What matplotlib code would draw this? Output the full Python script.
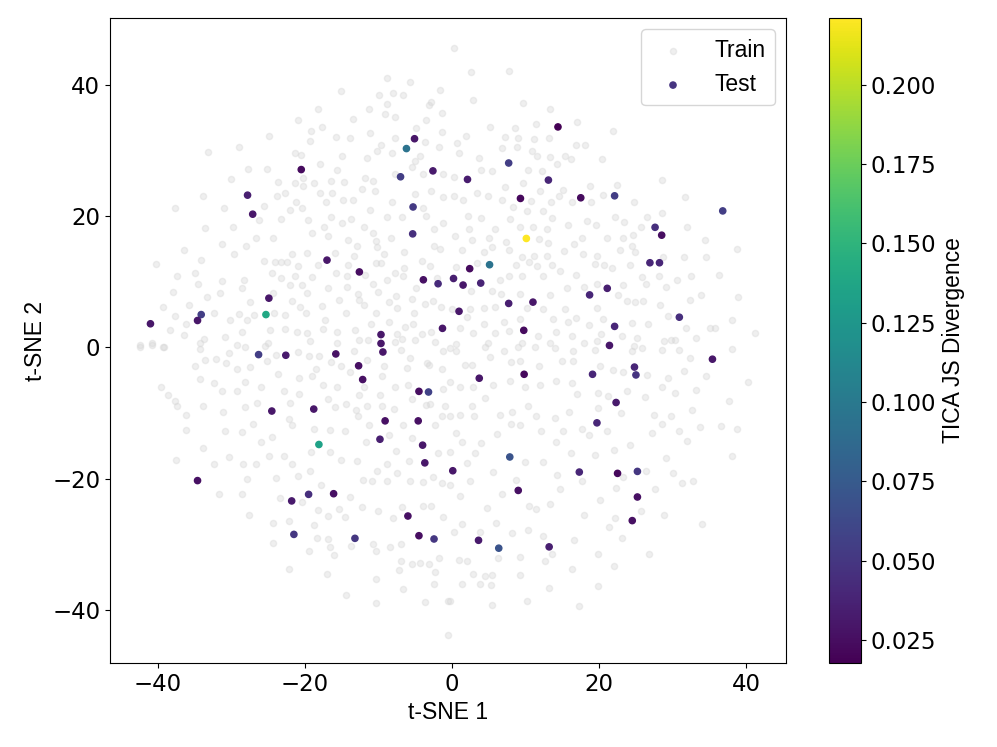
import numpy as np
import matplotlib
matplotlib.use("Agg")
import matplotlib.pyplot as plt

# ---------------- data ----------------
# Train embedding, upper-left region (x, y)
train_upper_left = [
    (-8.9,41.0),(-5.7,40.4),(-15.1,39.1),(-9.9,38.4),(-8.0,38.8),(-6.7,38.4),(-1.6,39.2),(-2.8,37.4),(-3.2,37.0),(-8.9,37.1),
    (-11.3,36.3),(-18.2,36.3),(-1.3,35.7),(-9.1,35.5),(-7.8,35.1),(-20.9,34.7),(-13.5,34.8),(-3.5,34.7),(-17.7,33.6),(-4.9,33.5),
    (-19.2,33.0),(-1.4,32.8),(-24.9,32.2),(-15.8,32.1),(-13.9,31.9),(-11.2,32.7),(-7.7,31.9),
    (-19.3,31.4),(-3.7,31.3),(-28.9,30.5),(-33.2,29.8),(-9.6,30.8),(-10.2,30.0),(-1.8,30.6),(-21.3,29.7),(-20.6,29.3),
    (-15.0,29.2),(-11.5,28.8),(-8.1,29.6),(-4.4,29.1),(-5.1,28.4),(-17.9,27.9),(-5.4,27.5),(-27.8,27.2),(-25.2,27.2),(-15.6,27.0),
    (-7.7,26.5),(-4.0,26.5),(-1.2,26.5),(-30.1,25.7),(-23.7,25.2),(-20.2,25.8),(-18.7,25.1),(-16.5,25.3),(-14.7,25.2),(-11.8,25.8),
    (-10.8,25.4),(-21.3,25.0),(-23.8,23.1),(-22.7,23.6),(-20.2,24.6),(-18.0,23.5),(-16.3,23.6),(-12.3,24.2),(-10.5,23.8),(-5.1,23.4),
    (-2.9,23.9),(-1.2,22.9),(-33.8,23.1),(-21.2,22.1),(-17.2,22.1),(-14.8,22.5),(-13.4,22.5),(-8.2,22.1),
    (-37.6,21.2),(-31.0,21.2),(-25.5,21.6),(-22.0,20.9),(-20.4,21.2),(-11.2,20.9),(-8.9,19.9),(-6.8,19.9),(-4.0,21.2),(-3.5,20.1),
    (-1.2,18.9),(-33.6,18.2),(-29.8,18.4),(-26.2,19.4),(-23.3,19.6),(-19.6,19.4),(-16.5,19.9),(-14.9,18.9),(-13.8,19.5),(-12.0,18.4),
    (-17.4,18.3),(-19.1,17.4),(-16.8,16.9),(-10.8,17.4),(-8.3,16.7),(-2.4,18.1),
    (-28.0,15.5),(-26.7,16.6),(-24.3,16.6),(-31.3,15.8),(-14.2,16.4),(-12.9,15.5),(-10.4,16.2),(-10.2,15.3),(-6.5,14.6),(-2.5,15.5),
    (-1.6,15.0),(-36.5,14.8),(-29.6,14.2),(-21.8,14.2),(-19.7,14.4),(-15.9,14.4),(-13.3,13.9),(-9.3,14.3),(-34.1,13.3),(-25.5,13.1),
    (-24.1,13.0),(-23.3,13.0),(-22.5,13.0),(-21.0,12.4),(-18.2,12.6),(-14.1,12.5),(-10.4,12.8),(-9.7,12.9),(-6.5,12.1),(-4.1,13.2),
    (-3.0,12.4),(-40.2,12.7),(-37.4,10.9),
    (-35.0,11.3),(-24.5,11.4),(-21.4,10.9),(-19.1,10.7),(-15.8,11.4),(-14.3,10.9),(-11.8,11.0),(-7.8,11.3),(-6.6,10.9),(-2.0,10.6),
    (-34.5,9.7),(-31.3,10.1),(-28.3,10.2),(-23.3,10.6),(-22.0,9.5),(-20.4,9.5),(-14.3,9.2),(-10.7,9.6),(-8.9,10.2),(-4.9,9.0),
    (-37.9,8.5),(-31.5,8.3),(-28.5,9.0),(-27.5,6.9),(-24.3,8.3),(-19.7,8.3),(-16.8,9.0),(-12.8,8.2),(-10.1,8.5),(-7.6,7.9),
    (-5.5,7.3),(-2.6,7.0),(-33.3,7.7),(-21.8,7.1),(-15.4,7.2),(-12.7,7.2),
    (-35.8,6.4),(-39.3,6.2),(-32.3,5.3),(-29.0,5.1),(-27.9,4.2),(-26.9,5.0),(-24.2,5.2),(-22.7,4.9),(-20.7,6.2),(-19.8,5.2),
    (-17.7,6.3),(-14.4,5.2),(-12.0,6.4),(-10.4,5.3),(-8.6,6.9),(-7.5,6.0),(-3.7,6.6),(-5.2,5.2),(-1.5,6.2),(-36.2,3.5),
    (-37.7,4.8),(-30.2,4.1),(-17.3,4.2),(-11.0,3.5),(-8.6,3.9),(-6.4,3.1),(-5.3,3.5),(-4.1,2.1),(-2.8,2.4),(-38.3,2.6),
    (-36.5,1.9),(-33.7,1.3),(-30.9,1.6),(-28.6,2.3),(-24.8,2.6),(-22.7,2.8),(-21.1,2.4),(-19.7,2.2),(-17.6,2.8),(-15.7,2.3),
    (-13.2,2.6),(-7.5,2.0),(-6.8,1.3),(-42.4,0.3),(-40.8,0.6),(-39.2,0.0),(-34.3,0.7),(-25.0,0.6),(-19.3,0.9),(-15.7,0.7),
    (-12.7,1.2),(-11.4,1.1),(-7.7,0.8),(-5.1,1.1),(-2.3,0.8),
]

# Train embedding, upper-right region (x, y)
train_upper_right = [
    (0.3,45.7),(2.6,41.9),(7.8,42.1),(2.8,37.7),(9.6,37.2),(13.3,36.3),(5.1,33.6),(8.5,33.5),(11.4,34.1),(17.0,34.4),
    (21.9,33.0),(0.7,31.2),(1.9,32.2),(7.2,32.1),(9.0,31.9),(11.1,31.8),(13.2,31.9),(16.9,30.9),(18.1,30.8),(1.0,29.6),
    (3.7,28.9),(5.4,26.9),(6.8,30.4),(8.8,30.5),(10.9,30.0),(11.6,29.2),(13.3,29.0),(15.4,29.2),(16.2,28.7),(20.4,28.7),
    (4.0,27.1),(14.3,27.9),(10.3,27.1),(12.2,26.9),(0.2,25.9),(3.4,23.6),(4.9,23.0),(7.2,24.4),(9.7,25.1),(12.0,23.8),
    (15.1,24.0),(18.7,24.6),(20.5,23.2),(22.4,24.8),(28.6,25.5),(31.7,22.9),(0.2,23.0),(1.5,22.5),(6.8,22.4),(10.7,22.3),
    (13.5,22.2),(14.5,23.0),(16.3,22.1),(18.9,22.2),(24.8,22.2),(2.2,20.1),(4.0,19.7),(8.3,21.4),(10.2,20.8),(12.4,20.8),
    (13.6,19.7),(18.3,19.3),(19.6,18.7),(22.1,19.9),(23.4,19.1),(26.5,19.9),(28.6,20.5),(31.9,18.4),(2.3,18.0),(5.8,18.1),
    (7.9,19.5),(9.3,18.3),(11.0,18.3),(12.9,18.1),(15.7,18.6),(21.0,16.6),(23.3,16.7),(24.6,17.2),(25.7,18.3),(0.4,16.9),
    (2.7,16.3),(5.0,16.6),(7.4,16.1),(11.8,16.5),(13.1,15.9),(16.6,15.8),(17.6,16.7),(34.4,16.4),(38.7,15.0),(1.4,14.9),
    (4.3,14.5),(5.4,15.3),(7.7,14.9),(9.5,13.7),(11.2,13.9),(12.9,14.0),(15.2,14.7),(17.8,14.2),(19.7,13.9),(22.9,14.9),
    (24.4,15.4),(24.9,14.6),(28.7,13.7),(31.6,13.8),(34.5,13.8),(0.6,12.3),(3.4,12.9),(7.8,10.9),(8.7,12.5),(10.5,13.0),
    (11.6,12.4),(13.6,12.6),(14.7,11.6),(16.9,11.1),(19.4,12.7),(20.6,12.5),(21.7,12.1),(24.2,12.5),(25.8,10.8),(28.2,10.9),
    (30.6,10.2),(32.5,10.9),(36.3,11.1),(6.5,10.2),(9.5,10.9),(12.4,10.9),(17.9,9.2),(19.7,9.6),(23.2,9.5),(26.4,9.7),
    (29.1,9.2),(33.8,8.0),(38.9,7.7),(2.6,8.6),(5.4,8.6),(6.6,8.1),(9.2,8.2),(13.3,8.0),(15.6,9.0),(22.6,8.0),
    (26.0,7.1),(28.3,6.5),(32.4,7.2),(0.0,5.9),(2.5,5.9),(4.3,6.0),(5.8,6.2),(10.2,6.0),(12.4,5.8),(15.4,5.9),
    (16.9,4.5),(19.7,6.0),(23.8,7.1),(24.9,6.9),(29.3,4.8),(35.1,2.9),(35.8,2.9),(38.0,4.2),(41.2,2.2),(2.0,4.6),
    (4.3,3.5),(7.0,3.9),(9.2,4.3),(13.7,4.3),(15.8,3.9),(18.6,3.4),(20.5,4.3),(24.5,3.7),(26.7,3.5),(31.8,3.0),
    (1.1,3.0),(2.8,2.2),(5.8,2.2),(7.8,2.5),(11.7,1.7),(14.2,2.3),(16.3,1.8),(17.9,0.7),(20.2,2.0),(23.1,1.7),
    (25.1,1.5),(28.8,0.9),(29.8,1.2),(30.3,1.1),(0.6,0.5),(4.9,0.7),(9.5,0.7),(13.3,0.7),(19.7,0.9),(24.7,0.2),
    (33.1,1.5),
]

# Train embedding, lower-left region (x, y)
train_lower_left = [
    (-42.4,0.1),(-40.8,0.4),(-39.3,0.0),(-34.3,-0.3),(-30.3,-0.9),(-29.2,0.4),(-28.2,0.1),(-25.4,0.2),(-23.9,-1.1),(-21.0,-0.7),
    (-19.4,-1.3),(-18.1,-1.3),(-13.3,-0.6),(-11.6,-1.9),(-7.0,-0.4),(-5.7,-1.6),(-3.4,-2.4),(-1.2,-0.5),(-34.9,-2.9),(-33.6,-1.9),
    (-32.1,-1.8),(-30.7,-2.4),(-29.2,-3.3),(-27.4,-3.0),(-25.2,-2.1),(-23.7,-4.1),(-20.8,-4.7),(-19.1,-4.3),(-18.5,-3.3),(-16.4,-2.3),
    (-15.1,-2.8),(-13.9,-3.7),(-9.5,-4.3),(-9.2,-2.8),(-6.1,-3.2),(-3.1,-2.7),(-1.4,-3.3),(-34.3,-4.8),(-32.3,-5.5),(-31.3,-6.6),
    (-29.3,-6.7),(-28.2,-5.3),(-26.0,-6.1),(-22.9,-6.7),(-20.8,-7.1),(-17.5,-5.8),(-15.7,-6.0),(-12.7,-7.3),(-12.0,-6.0),(-9.8,-7.2),
    (-7.7,-6.1),(-6.0,-5.7),(-3.5,-8.8),(-1.2,-6.3),(-39.6,-6.1),(-38.6,-7.2),(-37.6,-8.2),(-37.4,-8.9),(-36.2,-10.3),(-33.9,-9.0),
    (-31.1,-9.8),(-28.2,-9.1),(-26.5,-8.4),(-22.0,-8.5),(-16.9,-7.9),(-15.9,-9.1),(-14.4,-8.7),(-13.0,-9.6),(-11.5,-8.9),(-9.5,-9.0),
    (-7.9,-9.4),(-5.5,-7.9),(-3.0,-8.7),(-1.0,-8.9),(-36.2,-12.6),(-30.8,-12.7),(-28.5,-12.9),(-27.1,-11.6),(-24.5,-13.7),(-22.2,-10.9),
    (-21.7,-11.8),(-18.7,-12.4),(-16.6,-12.6),(-14.5,-12.7),(-12.8,-10.5),(-11.3,-11.9),(-8.6,-13.3),(-6.6,-11.8),(-5.5,-13.8),(-2.3,-11.9),
    (-1.3,-10.5),(-33.8,-15.3),(-37.5,-17.1),(-32.3,-17.7),(-30.3,-16.7),(-28.4,-17.8),(-26.7,-17.7),(-26.0,-14.4),(-24.9,-16.5),(-22.9,-16.5),
    (-21.8,-17.8),(-19.2,-15.9),(-16.6,-15.9),(-15.1,-17.2),(-12.9,-17.3),(-11.7,-14.4),(-10.2,-18.8),(-8.8,-17.8),(-7.6,-15.8),(-5.9,-17.3),
    (-1.9,-16.1),(-31.7,-22.3),(-28.6,-22.3),(-27.9,-20.0),(-23.9,-19.9),(-21.0,-19.6),(-19.3,-18.8),(-17.8,-21.0),(-13.9,-22.8),(-12.1,-20.2),
    (-10.9,-20.3),(-8.9,-20.4),(-7.5,-19.2),(-5.7,-20.4),(-4.0,-20.5),(-2.6,-19.8),(-1.3,-20.6),(-27.6,-25.5),(-24.4,-26.7),(-23.4,-23.0),
    (-20.4,-23.6),(-18.2,-24.8),(-16.8,-25.7),(-15.4,-24.7),(-14.5,-25.8),(-12.3,-24.4),(-10.1,-25.0),(-8.0,-26.0),(-6.8,-24.4),(-4.0,-24.1),
    (-2.9,-24.2),(-1.2,-25.9),(-24.3,-29.8),(-22.1,-26.4),(-19.5,-31.1),(-18.8,-27.0),(-18.4,-29.0),(-16.9,-29.2),(-16.6,-30.4),(-16.0,-31.6),
    (-13.8,-30.3),(-10.4,-31.1),(-10.7,-29.9),(-8.5,-30.4),(-6.9,-30.0),(-7.0,-32.6),(-5.5,-33.0),(-4.4,-32.8),(-3.1,-33.0),(-1.8,-32.1),
    (-22.1,-33.7),(-17.0,-34.5),(-7.2,-34.0),(-2.3,-34.3),(-10.3,-35.3),(-2.5,-36.0),(-6.7,-36.8),(-14.4,-37.8),(-10.4,-39.0),(-3.7,-38.8),
    (-0.6,-43.8),(-0.6,-38.7),
]

# Train embedding, lower-right region (x, y)
train_lower_right = [
    (-0.3,-0.1),(0.5,-0.5),(4.5,0.1),(7.0,-0.6),(9.0,0.1),(11.3,0.0),(14.0,-0.1),(16.5,-0.6),(19.5,-0.4),(24.4,-0.6),
    (25.8,-0.1),(28.5,-0.4),(30.8,-0.4),(32.4,-1.6),(38.0,-0.3),(1.8,-2.7),(2.7,-2.7),(5.2,-1.4),(8.0,-2.2),(9.3,-2.1),
    (11.8,-2.8),(14.9,-2.0),(16.5,-2.0),(20.1,-2.9),(21.9,-3.4),(23.3,-3.7),(26.5,-4.2),(29.4,-4.6),(31.5,-3.6),(34.5,-4.4),
    (40.2,-5.3),(-0.3,-5.2),(1.1,-6.0),(2.8,-6.0),(4.5,-7.7),(5.6,-5.7),(7.9,-5.1),(9.9,-6.0),(12.0,-5.8),(14.2,-5.1),
    (16.3,-5.4),(17.0,-7.1),(19.9,-7.0),(21.2,-7.4),(23.8,-6.7),(26.2,-7.5),(28.5,-6.1),(30.3,-7.0),(33.2,-6.5),(37.7,-8.2),
    (-0.3,-10.5),(1.1,-10.3),(2.7,-9.0),(3.0,-10.5),(6.5,-10.3),(8.1,-9.9),(10.3,-9.0),(11.4,-10.4),(14.0,-10.7),(15.9,-9.8),
    (17.6,-12.4),(19.9,-9.2),(23.0,-10.0),(27.4,-10.3),(29.7,-10.5),(32.6,-9.5),(33.7,-12.2),(36.5,-12.0),(38.8,-12.4),(0.5,-13.1),
    (1.4,-14.4),(4.0,-14.6),(6.1,-13.2),(8.0,-11.6),(9.3,-11.8),(12.1,-12.8),(14.2,-14.4),(15.1,-12.7),(18.6,-13.4),(21.0,-12.8),
    (22.0,-15.7),(24.2,-14.9),(27.2,-13.1),(28.6,-11.6),(30.8,-12.8),(31.9,-14.3),(38.1,-16.5),(-0.3,-15.9),(2.0,-17.6),(3.1,-16.1),
    (5.6,-19.0),(9.9,-17.5),(12.4,-17.4),(14.3,-19.4),(16.2,-16.1),(17.6,-20.4),(19.5,-16.4),(22.3,-21.5),(23.3,-19.8),(26.3,-18.9),
    (27.6,-21.6),(29.1,-16.9),(30.1,-19.2),(31.2,-20.7),(32.8,-20.4),(-0.3,-21.0),(1.1,-22.7),(2.5,-20.3),(4.8,-24.5),(6.8,-22.3),
    (8.7,-20.2),(10.4,-24.1),(11.4,-24.7),(13.3,-23.9),(14.7,-21.6),(17.9,-25.6),(20.1,-23.2),(22.2,-26.0),(25.7,-24.9),(28.8,-25.6),
    (34.0,-26.9),(0.2,-28.1),(1.4,-26.9),(3.8,-28.1),(6.0,-26.8),(8.1,-28.3),(10.3,-27.9),(12.4,-28.7),(13.6,-31.5),(16.6,-29.3),
    (19.9,-31.5),(21.4,-27.3),(23.1,-29.0),(26.8,-31.5),(0.9,-32.4),(2.0,-32.6),(2.8,-34.6),(4.5,-34.8),(5.4,-34.7),(6.2,-32.1),
    (9.3,-32.0),(9.3,-34.7),(12.6,-32.5),(16.3,-33.8),(22.0,-33.3),(1.3,-36.0),(3.8,-36.0),(5.3,-36.2),(13.2,-36.7),(19.8,-36.3),
    (-0.3,-38.7),(5.4,-39.2),(10.2,-38.6),(17.2,-39.4),
]

# Test embedding with TICA JS divergence
test_x = [25.0, -5.1, -6.2, -20.5, -2.6, -7.0, -27.8, -27.1, -5.3, -5.35, -17.0, -12.6, -3.9, -1.9, -24.9,
          -25.3, -34.1, -34.6, -41.0, -1.3, -9.66, -9.66,
          14.4, 7.7, 2.1, 13.1, 9.3, 17.5, 22.1, 36.8, 27.6, 28.5, 10.1, 26.9, 28.2, 5.1, 2.4, 0.2, 1.5,
          3.9, 21.1, 18.7, 7.7, 11.0, 0.95, 30.9, 22.1, 9.75, 21.4,
          -26.3, -22.6, -15.8, -9.4, -12.7, -12.15, -4.5, -3.2, -24.5, -18.8, -9.1, -4.6, -9.8, -18.1,
          -4.0, -3.7, 0.1, -34.6, -16.1, -19.5, -21.8, -6.0, -21.5, -13.2, -4.5, -2.45,
          35.4, 24.8, 3.7, 9.8, 19.1, 22.3, 19.7, 7.85, 17.3, 22.5, 25.2, 9.0, 25.2, 24.5, 3.6, 6.35, 13.2]
test_y = [-4.2, 31.8, 30.3, 27.1, 26.9, 26.0, 23.2, 20.3, 21.4, 17.3, 13.3, 11.5, 10.3, 9.7, 7.5,
          5.0, 5.0, 4.1, 3.6, 2.9, 1.95, 0.6,
          33.6, 28.1, 25.6, 25.5, 22.7, 22.8, 23.1, 20.8, 18.3, 17.1, 16.6, 12.9, 12.9, 12.6, 12.0, 10.5, 9.5,
          9.8, 9.0, 8.0, 6.7, 6.9, 5.5, 4.6, 3.2, 2.6, 0.3,
          -1.1, -1.2, -1.0, -0.7, -2.8, -4.9, -6.7, -6.8, -9.7, -9.4, -11.2, -11.2, -14.0, -14.8,
          -14.9, -17.6, -18.8, -20.3, -22.3, -22.4, -23.4, -25.7, -28.5, -29.1, -28.7, -29.2,
          -1.8, -3.0, -4.7, -4.1, -4.1, -8.4, -11.5, -16.7, -19.0, -19.2, -18.9, -21.8, -22.8, -26.4, -29.4, -30.6, -30.4]
test_js = [0.048, 0.030, 0.095, 0.024, 0.032, 0.055, 0.035, 0.030, 0.052, 0.045, 0.030, 0.025, 0.027, 0.042, 0.030,
           0.140, 0.055, 0.030, 0.030, 0.030, 0.030, 0.030,
           0.0178, 0.055, 0.033, 0.040, 0.022, 0.024, 0.055, 0.055, 0.045, 0.025, 0.221, 0.040, 0.040, 0.095, 0.024, 0.035, 0.030,
           0.038, 0.035, 0.040, 0.035, 0.030, 0.030, 0.045, 0.040, 0.024, 0.030,
           0.055, 0.032, 0.027, 0.030, 0.026, 0.026, 0.025, 0.058, 0.030, 0.030, 0.026, 0.026, 0.035, 0.135,
           0.030, 0.030, 0.030, 0.026, 0.026, 0.045, 0.032, 0.026, 0.050, 0.050, 0.025, 0.050,
           0.030, 0.040, 0.030, 0.022, 0.040, 0.032, 0.040, 0.070, 0.040, 0.022, 0.050, 0.026, 0.026, 0.026, 0.032, 0.070, 0.035]

# ---------------- plotting ----------------
LABEL_FONT = ["Liberation Sans", "DejaVu Sans"]
FS = 16.5

train = np.array(train_upper_left + train_upper_right + train_lower_left + train_lower_right)

fig = plt.figure(figsize=(9.97, 7.47), dpi=100)
ax = fig.add_axes([110/997, 84/747, 676/997, 645/747])
cax = fig.add_axes([829/997, 84/747, 32/997, 645/747])

ax.scatter(train[:, 0], train[:, 1], s=20, color="lightgray", alpha=0.35, label="Train")
sc = ax.scatter(test_x, test_y, c=test_js, cmap="viridis", s=20, label="Test")

ax.set_xlim(-46.5, 45.4)
ax.set_ylim(-48.1, 50.2)
ax.set_xticks([-40, -20, 0, 20, 40])
ax.set_yticks([-40, -20, 0, 20, 40])
ax.tick_params(labelsize=FS)
for lab in ax.get_xticklabels() + ax.get_yticklabels():
    lab.set_family("DejaVu Sans")

ax.set_xlabel("t-SNE 1", fontsize=FS, family=LABEL_FONT)
ax.set_ylabel("t-SNE 2", fontsize=FS, family=LABEL_FONT)

leg = ax.legend(loc="upper right", prop={"family": LABEL_FONT, "size": FS})

cb = fig.colorbar(sc, cax=cax)
cb.set_ticks([0.025, 0.05, 0.075, 0.1, 0.125, 0.15, 0.175, 0.2])
cb.ax.tick_params(labelsize=FS)
cb.set_label("TICA JS Divergence", fontsize=FS, family=LABEL_FONT)

fig.savefig("out.png", dpi=100)
